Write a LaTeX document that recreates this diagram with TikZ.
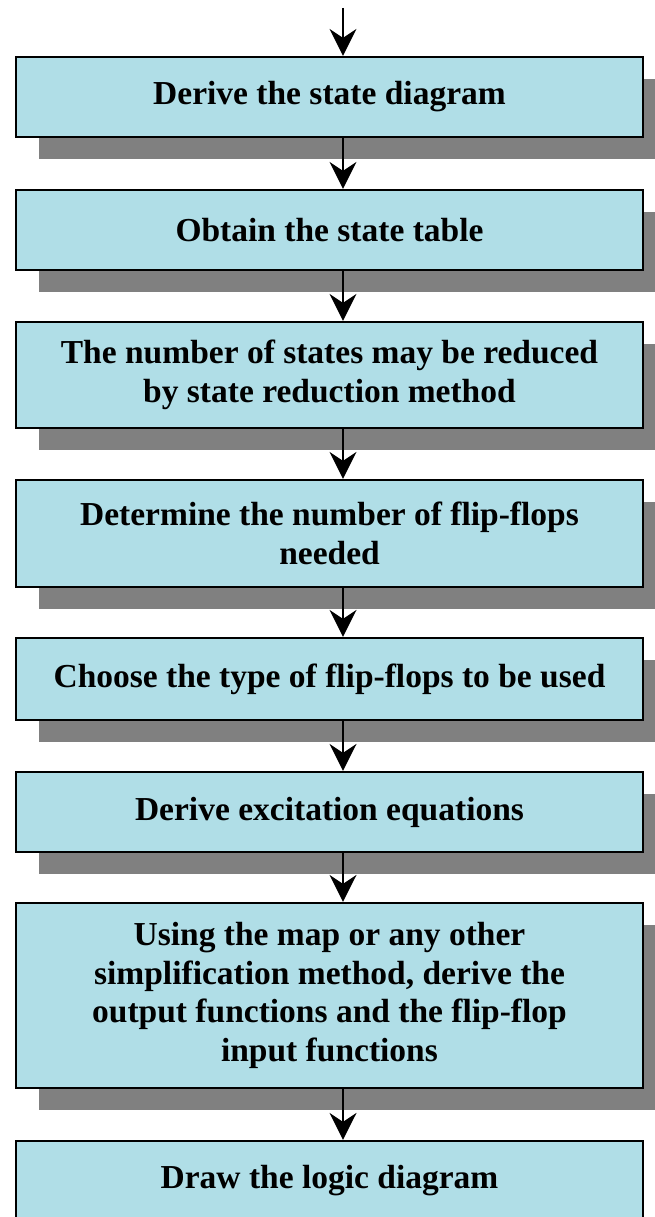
\documentclass[tikz,border=0pt]{standalone}
\usepackage{fontspec}
\setmainfont{Liberation Serif}
\usetikzlibrary{arrows.meta,shadows}
\definecolor{boxfill}{RGB}{176,222,231}
\definecolor{shgray}{RGB}{128,128,128}
\begin{document}
\begin{tikzpicture}[x=1pt,y=-1pt,
  stepbox/.style={draw=black,line width=2.2pt,fill=boxfill,
    minimum width=627pt,inner sep=0pt,align=center,
    font=\fontsize{33.5}{38.5}\selectfont\bfseries},
  shadowed/.style={drop shadow={shadow xshift=23pt,shadow yshift=-22pt,fill=shgray,opacity=1}},
  flow/.style={line width=2pt,-{Stealth[length=27pt,width=27pt,inset=9pt]}}]
\useasboundingbox (0,0) rectangle (655,1217);
\clip (0,0) rectangle (655,1217);
\node[stepbox,shadowed,minimum height=80pt] (b1) at (329.5,97) {Derive the state diagram};
\node[stepbox,shadowed,minimum height=80pt] (b2) at (329.5,230) {Obtain the state table};
\node[stepbox,shadowed,minimum height=106pt] (b3) at (329.5,375) {The number of states may be reduced\\by state reduction method};
\node[stepbox,shadowed,minimum height=107pt] (b4) at (329.5,533.5) {Determine the number of flip-flops\\needed};
\node[stepbox,shadowed,minimum height=82pt] (b5) at (329.5,679) {Choose the type of flip-flops to be used};
\node[stepbox,shadowed,minimum height=80pt] (b6) at (329.5,812) {Derive excitation equations};
\node[stepbox,shadowed,minimum height=185pt] (b7) at (329.5,995.5) {Using the map or any other\\simplification method, derive the\\output functions and the flip-flop\\input functions};
\node[stepbox,minimum height=80pt] (b8) at (329.5,1181) {Draw the logic diagram};
\coordinate (ax) at (343,0);
\coordinate (start) at (343,8);
\draw[flow] (start) -- (b1.north -| ax);
\draw[flow] (b1.south -| ax) -- (b2.north -| ax);
\draw[flow] (b2.south -| ax) -- (b3.north -| ax);
\draw[flow] (b3.south -| ax) -- (b4.north -| ax);
\draw[flow] (b4.south -| ax) -- (b5.north -| ax);
\draw[flow] (b5.south -| ax) -- (b6.north -| ax);
\draw[flow] (b6.south -| ax) -- (b7.north -| ax);
\draw[flow] (b7.south -| ax) -- (b8.north -| ax);
\end{tikzpicture}
\end{document}
